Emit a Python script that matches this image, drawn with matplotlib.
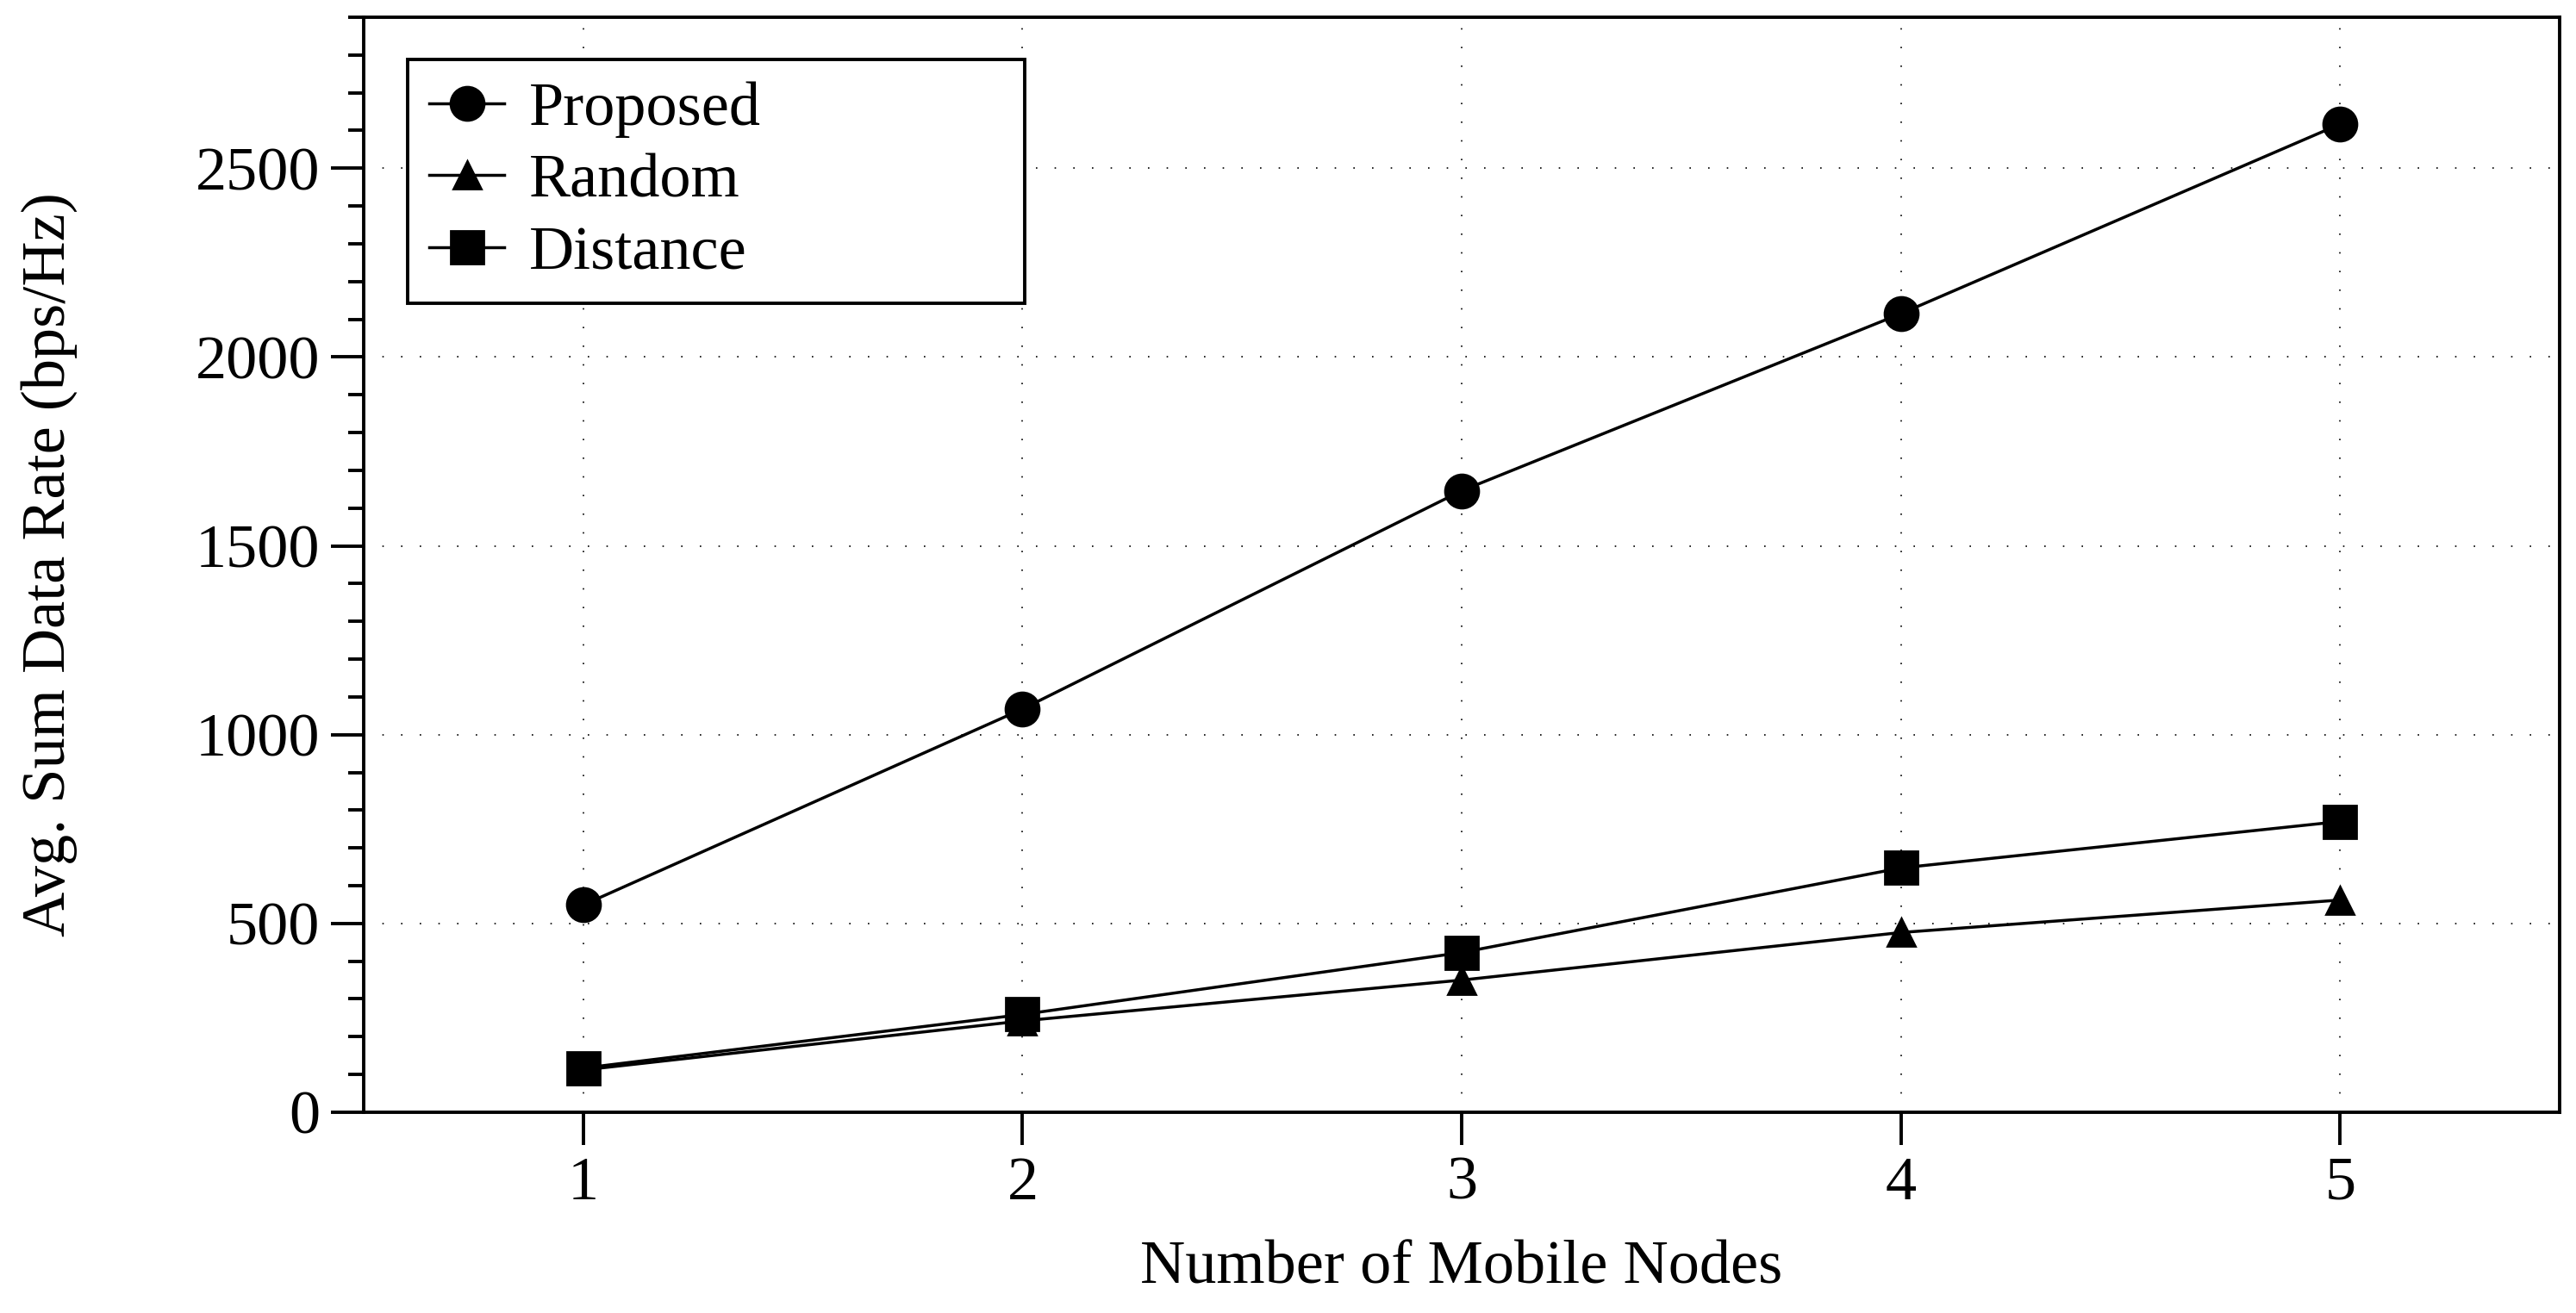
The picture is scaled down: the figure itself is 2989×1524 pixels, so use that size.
import matplotlib
matplotlib.use("Agg")
import matplotlib.pyplot as plt
from matplotlib.ticker import MultipleLocator

plt.rcParams['font.family'] = ['Liberation Serif', 'DejaVu Serif']
plt.rcParams['font.size'] = 26

nodes = [1, 2, 3, 4, 5]
proposed = [549, 1068, 1646, 2115, 2617]
random_sel = [112, 242, 350, 476, 562]
distance = [117, 259, 423, 647, 770]

fig = plt.figure(figsize=(14.945, 7.62), dpi=200)
ax = fig.add_axes([0.1412, 0.1529, 0.8525, 0.834])

lw = 1.25
ax.plot(nodes, proposed, color='black', lw=lw, marker='o', ms=14, label='Proposed')
ax.plot(nodes, random_sel, color='black', lw=lw, marker='^', ms=11.5, label='Random')
ax.plot(nodes, distance, color='black', lw=lw, marker='s', ms=13.5, label='Distance')

ax.set_xlim(0.5, 5.5)
ax.set_ylim(0, 2900)
ax.xaxis.set_major_locator(MultipleLocator(1))
ax.yaxis.set_major_locator(MultipleLocator(500))
ax.yaxis.set_minor_locator(MultipleLocator(100))

ax.grid(True, which='major', color='black', linestyle=(0, (1, 12)), linewidth=0.6)

for s in ax.spines.values():
    s.set_linewidth(1.4)

ax.tick_params(axis='both', which='major', direction='out', length=13.7, width=1.4, pad=4.5,
               labelsize=26, top=False, right=False)
ax.tick_params(axis='y', which='minor', direction='out', length=6.5, width=1.4, right=False)

ax.set_xlabel('Number of Mobile Nodes', fontsize=26)
ax.set_ylabel('Avg. Sum Data Rate (bps/Hz)', fontsize=26)
ax.xaxis.set_label_coords(0.5, -0.1424)
ax.xaxis.label.set_va('center')
ax.yaxis.set_label_coords(-0.1432, 0.5)
ax.yaxis.label.set_va('center')

leg = ax.legend(loc='upper left', bbox_to_anchor=(0.020, 0.5, 0.281, 0.4614), mode='expand',
                borderaxespad=0, fontsize=26, fancybox=False, edgecolor='black', framealpha=1,
                handlelength=1.2, handletextpad=0.4, labelspacing=0.25, borderpad=0.35)
leg.get_frame().set_linewidth(1.4)

fig.savefig('out.png', dpi=200)
